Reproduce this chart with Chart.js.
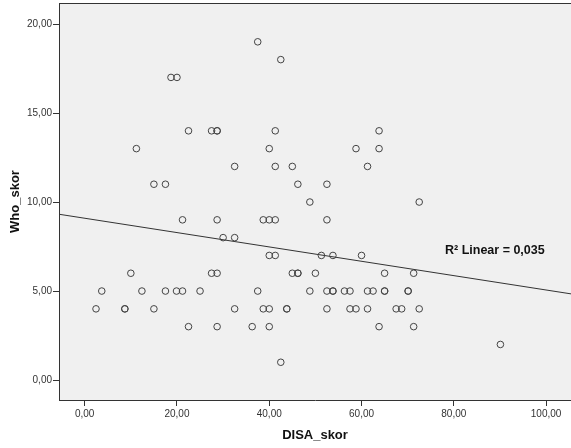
<!DOCTYPE html>
<html>
<head>
<meta charset="utf-8">
<script src="https://cdn.jsdelivr.net/npm/chart.js@4/dist/chart.umd.min.js"></script>
<style>
  html, body { margin: 0; padding: 0; background: #fff; }
  canvas { display: block; }
</style>
</head>
<body>
<canvas id="myChart" width="571" height="448"></canvas>
<script>
// DISA_skor (x) and Who_skor (y)
const disaSkor = [
  18.7, 20, 22.5, 27.5, 28.7, 28.7, 11.2, 15, 17.5, 21.2,
  28.7, 30, 10, 27.5, 28.7, 3.7, 12.4, 17.5, 19.9, 21.2,
  25, 2.45, 8.7, 8.7, 15, 22.5, 28.7, 37.5, 42.5, 41.3,
  63.8, 40, 58.8, 63.8, 32.5, 41.3, 45, 61.3, 46.2, 52.5,
  48.8, 38.7, 40, 41.3, 52.5, 32.5, 40, 41.3, 51.3, 53.8,
  60, 45, 46.2, 46.2, 50, 65, 37.5, 48.8, 52.5, 53.8,
  53.8, 56.3, 57.5, 61.3, 62.5, 65, 65, 32.5, 38.7, 40,
  43.8, 43.8, 52.5, 57.5, 58.8, 61.3, 36.3, 40, 63.8, 42.5,
  72.5, 71.3, 70.1, 70.1, 67.5, 68.7, 72.5, 71.3, 90.1
]
const whoSkor = [
  17, 17, 14, 14, 14, 14, 13, 11, 11, 9,
  9, 8, 6, 6, 6, 5, 5, 5, 5, 5,
  5, 4, 4, 4, 4, 3, 3, 19, 18, 14,
  14, 13, 13, 13, 12, 12, 12, 12, 11, 11,
  10, 9, 9, 9, 9, 8, 7, 7, 7, 7,
  7, 6, 6, 6, 6, 6, 5, 5, 5, 5,
  5, 5, 5, 5, 5, 5, 5, 4, 4, 4,
  4, 4, 4, 4, 4, 4, 3, 3, 3, 1,
  10, 6, 5, 5, 4, 4, 4, 3, 2
]

// fit line
const fitX = [-5.57, 105.4]
const fitY = [9.314, 4.842]

const xTicks = [0, 20, 40, 60, 80, 100]
const yTicks = [0, 5, 10, 15, 20]
const rSquaredText = 'R² Linear = 0,035'

const fmt = v => v.toFixed(2).replace('.', ',')

const points = disaSkor.map((x, i) => ({ x: x, y: whoSkor[i] }))
const fitLine = fitX.map((x, i) => ({ x: x, y: fitY[i] }))

const plotFrame = {
  id: 'plotFrame',
  beforeDraw(chart) {
    const { ctx, chartArea: a } = chart
    ctx.save()
    ctx.fillStyle = '#f0f0f0'
    ctx.fillRect(a.left, a.top, a.right - a.left, a.bottom - a.top)
    ctx.restore()
  },
  afterDraw(chart) {
    const { ctx, chartArea: a } = chart
    ctx.save()
    ctx.strokeStyle = '#333'
    ctx.lineWidth = 1
    ctx.beginPath()
    ctx.moveTo(a.left, a.top + 0.5)
    ctx.lineTo(a.right, a.top + 0.5)
    ctx.stroke()
    // R² label
    ctx.fillStyle = '#111'
    ctx.font = 'bold 12.5px "Liberation Sans", Arial, sans-serif'
    ctx.textBaseline = 'middle'
    ctx.fillText(rSquaredText, 445, 251)
    ctx.restore()
  }
}

new Chart(document.getElementById('myChart'), {
  type: 'scatter',
  data: {
    datasets: [{
      data: points,
      pointRadius: 3.3,
      pointHoverRadius: 3.3,
      pointBorderWidth: 1,
      pointBorderColor: '#444',
      pointBackgroundColor: 'rgba(0,0,0,0)'
    }, {
      type: 'line',
      data: fitLine,
      showLine: true,
      pointRadius: 0,
      borderColor: '#333',
      borderWidth: 1,
      fill: false
    }]
  },
  options: {
    responsive: false,
    animation: false,
    events: [],
    layout: { autoPadding: false, padding: { top: 3, right: 0, left: 0, bottom: 0 } },
    plugins: { legend: { display: false }, tooltip: { enabled: false } },
    scales: {
      x: {
        type: 'linear',
        min: fitX[0],
        max: fitX[1],
        afterBuildTicks: s => { s.ticks = xTicks.map(v => ({ value: v })) },
        afterFit: s => { s.height = 48; s.paddingLeft = 0; s.paddingRight = 0 },
        grid: { display: true, drawOnChartArea: false, drawTicks: true, tickLength: 6, color: '#333' },
        border: { display: true, color: '#333', width: 1 },
        ticks: {
          padding: 2,
          maxRotation: 0,
          color: '#333',
          font: { family: '"Liberation Sans", Arial, sans-serif', size: 10 },
          callback: v => fmt(v)
        },
        title: {
          display: true,
          text: 'DISA_skor',
          color: '#111',
          font: { family: '"Liberation Sans", Arial, sans-serif', size: 13, weight: 'bold' },
          padding: { top: 0, bottom: 5 }
        }
      },
      y: {
        type: 'linear',
        min: -1.12,
        max: 21.18,
        afterBuildTicks: s => { s.ticks = yTicks.map(v => ({ value: v })) },
        afterFit: s => { s.width = 59; s.paddingTop = 0; s.paddingBottom = 0 },
        grid: { display: true, drawOnChartArea: false, drawTicks: true, tickLength: 6, color: '#333' },
        border: { display: true, color: '#333', width: 1 },
        ticks: {
          padding: 1,
          color: '#333',
          font: { family: '"Liberation Sans", Arial, sans-serif', size: 10 },
          callback: v => fmt(v)
        },
        title: {
          display: true,
          text: 'Who_skor',
          color: '#111',
          font: { family: '"Liberation Sans", Arial, sans-serif', size: 13, weight: 'bold' },
          padding: { top: 8, bottom: 0 }
        }
      }
    }
  },
  plugins: [plotFrame]
})
</script>
</body>
</html>
